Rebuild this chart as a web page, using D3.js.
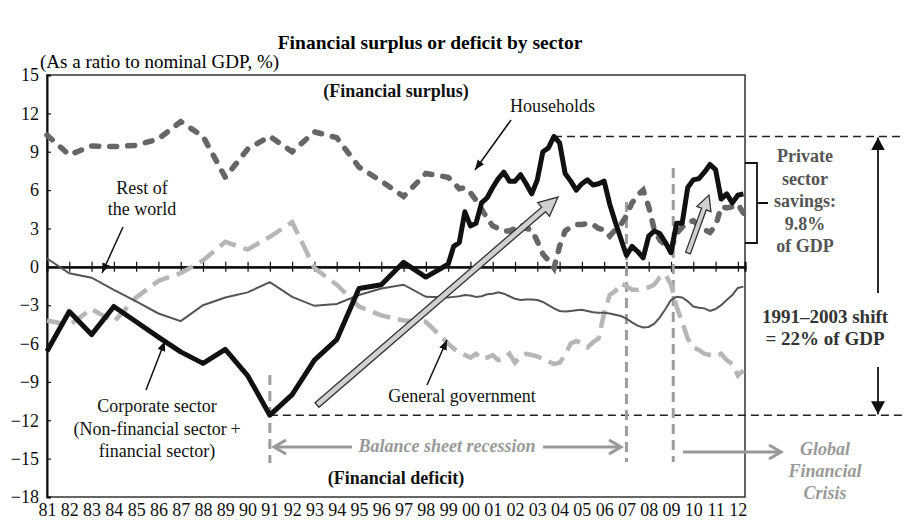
<!DOCTYPE html>
<html>
<head>
<meta charset="utf-8">
<script src="https://cdn.jsdelivr.net/npm/d3@7"></script>
<style>
  body { margin: 0; background: #fff; }
  svg { font-family: 'Liberation Serif', 'Times New Roman', serif; }
</style>
</head>
<body>
<div id="app"></div>
<script>
// x axis labels, one per year
const yearLabels = ['81', '82', '83', '84', '85', '86', '87', '88', '89', '90', '91', '92', '93', '94', '95', '96',
  '97', '98', '99', '00', '01', '02', '03', '04', '05', '06', '07', '08', '09', '10', '11', '12']
const yTicks = [-18, -15, -12, -9, -6, -3, 0, 3, 6, 9, 12, 15]

// annual data 1981-1998, then quarterly 1999Q1-2012Q2
const annualYears = [1981, 1982, 1983, 1984, 1985, 1986, 1987, 1988, 1989, 1990, 1991, 1992, 1993, 1994, 1995, 1996, 1997, 1998]
const quarterTimes = d3.range(54).map(k => 1999 + k / 4)

const corporateAnnual = [-6.6, -3.5, -5.3, -3.1, -4.3, -5.5, -6.65, -7.55, -6.45, -8.5, -11.6, -10.0, -7.3, -5.7, -1.7, -1.4, 0.35, -0.8]
const corporateQuarterly = [
  0.2, 1.6, 1.9, 4.3, 3.2, 3.4, 5.0, 5.4, 6.2, 6.9, 7.4, 6.7, 6.7, 7.2, 6.5, 5.7,
  6.8, 9.0, 9.3, 10.2, 9.7, 7.3, 6.7, 6.0, 6.5, 6.8, 6.4, 6.5, 6.7, 4.9, 3.5, 2.2,
  0.9, 1.6, 1.2, 0.7, 2.4, 2.8, 2.6, 1.9, 1.1, 3.4, 3.4, 6.2, 6.8, 6.9, 7.4, 8.0,
  7.6, 5.3, 5.7, 5.0, 5.6, 5.7]

const householdsAnnual = [10.3, 8.75, 9.45, 9.4, 9.5, 10.0, 11.35, 10.2, 7.0, 9.2, 10.2, 9.0, 10.55, 10.1, 7.8, 6.7, 5.5, 7.3]
const householdsQuarterly = [
  7.0, 6.6, 6.1, 6.2, 5.8, 5.2, 4.5, 3.8, 3.2, 3.0, 2.8, 2.8, 3.0, 3.3, 3.0, 2.9,
  2.0, 1.0, 0.5, -0.1, 1.6, 2.8, 3.1, 3.3, 3.3, 3.4, 3.3, 3.0, 2.9, 2.4, 2.9, 3.3,
  4.0, 5.0, 5.6, 6.0, 4.7, 2.9, 2.1, 1.7, 1.4, 2.6, 3.1, 3.5, 3.6, 3.2, 2.9, 2.7,
  3.2, 4.7, 4.6, 4.7, 4.9, 4.2]

const governmentAnnual = [-4.2, -4.55, -3.3, -4.3, -2.4, -1.1, -0.5, 0.5, 1.95, 1.35, 2.35, 3.5, -0.1, -1.4, -3.1, -3.8, -4.2, -4.3]
const governmentQuarterly = [
  -6.0, -6.4, -6.7, -6.9, -7.1, -6.8, -7.2, -7.1, -6.9, -7.3, -7.2, -6.8, -7.5, -7.0, -6.8, -6.9,
  -7.0, -7.2, -7.4, -7.6, -7.5, -6.9, -6.0, -5.8, -6.0, -6.3, -5.9, -5.6, -3.6, -2.2, -1.9, -1.3,
  -1.5, -1.8, -1.8, -1.7, -1.6, -1.4, -0.8, -0.6, -1.4, -3.1, -4.3, -5.6, -6.3, -6.5, -6.8, -6.9,
  -7.0, -6.8, -7.3, -7.6, -8.5, -8.1]

const restAnnual = [0.65, -0.5, -0.85, -1.8, -2.7, -3.65, -4.25, -3.0, -2.4, -2.0, -1.2, -2.35, -3.05, -2.9, -2.2, -1.7, -1.4, -2.35]
const restQuarterly = [
  -2.4, -2.35, -2.3, -2.2, -2.25, -2.35, -2.3, -2.15, -2.1, -2.0, -2.1, -2.3, -2.5, -2.6, -2.55, -2.55,
  -2.6, -2.75, -3.0, -3.25, -3.45, -3.5, -3.45, -3.4, -3.35, -3.45, -3.55, -3.6, -3.6, -3.65, -3.75, -3.85,
  -4.05, -4.35, -4.6, -4.75, -4.7, -4.45, -3.95, -3.3, -2.6, -2.35, -2.4, -2.7, -3.1, -3.2, -3.25, -3.45,
  -3.3, -3.0, -2.6, -2.2, -1.65, -1.55]

const times = annualYears.concat(quarterTimes)
const toSeries = (a, q) => times.map((t, i) => ({ t, v: i < a.length ? a[i] : q[i - a.length] }))
const corporate = toSeries(corporateAnnual, corporateQuarterly)
const households = toSeries(householdsAnnual, householdsQuarterly)
const government = toSeries(governmentAnnual, governmentQuarterly)
const rest = toSeries(restAnnual, restQuarterly)

const W = 904, H = 521
const plot = { left: 47, right: 745, top: 75, bottom: 497 }

const svg = d3.select('#app').append('svg').attr('width', W).attr('height', H)

const x = d3.scaleLinear().domain([1981, 2012.32]).range([plot.left, plot.right])
const y = d3.scaleLinear().domain([-18, 15]).range([plot.bottom, plot.top])

// Title
svg.append('text').attr('x', 430).attr('y', 49).attr('text-anchor', 'middle')
  .attr('font-weight', 'bold').attr('font-size', 19.5).text('Financial surplus or deficit by sector')
svg.append('text').attr('x', 40).attr('y', 68).attr('font-size', 19)
  .text('(As a ratio to nominal GDP, %)')

// markers
const defs = svg.append('defs')
defs.append('marker').attr('id', 'headSmall').attr('markerUnits', 'userSpaceOnUse')
  .attr('markerWidth', 10).attr('markerHeight', 10).attr('refX', 10).attr('refY', 4)
  .attr('orient', 'auto')
  .append('path').attr('d', 'M0,0L10,4L0,8Z').attr('fill', '#111')
defs.append('marker').attr('id', 'headBig').attr('markerUnits', 'userSpaceOnUse')
  .attr('markerWidth', 14).attr('markerHeight', 14).attr('refX', 13).attr('refY', 7)
  .attr('orient', 'auto')
  .append('path').attr('d', 'M0,0L13,7L0,14Z').attr('fill', '#111')

// frame
svg.append('rect').attr('x', plot.left).attr('y', plot.top)
  .attr('width', plot.right - plot.left).attr('height', plot.bottom - plot.top)
  .attr('fill', 'none').attr('stroke', '#333').attr('stroke-width', 1.5)

// Y axis
const yAxis = svg.append('g').attr('transform', `translate(${plot.left},0)`)
  .call(d3.axisLeft(y).tickValues(yTicks).tickSize(-4).tickPadding(8)
    .tickFormat(d => (d < 0 ? '\u2212' + Math.abs(d) : d)))
yAxis.select('.domain').attr('stroke', '#111').attr('stroke-width', 2)
yAxis.selectAll('.tick line').attr('stroke', '#111').attr('stroke-width', 1.2)
yAxis.selectAll('text').attr('font-family', 'Liberation Serif').attr('font-size', 18).attr('fill', '#111')

// X labels
const yearTicks = d3.range(1981, 2013)
const xAxis = svg.append('g').attr('transform', `translate(0,${plot.bottom})`)
  .call(d3.axisBottom(x).tickValues(yearTicks).tickSize(0).tickPadding(6)
    .tickFormat((d, i) => yearLabels[i]))
xAxis.select('.domain').remove()
xAxis.selectAll('text').attr('font-family', 'Liberation Serif').attr('font-size', 18).attr('fill', '#111')

// zero line with crossing ticks
const zeroG = svg.append('g')
zeroG.append('g').attr('transform', `translate(0,${y(0)})`)
  .call(d3.axisBottom(x).tickValues(yearTicks.slice(1)).tickSize(5).tickFormat(''))
zeroG.append('g').attr('transform', `translate(0,${y(0)})`)
  .call(d3.axisTop(x).tickValues(yearTicks.slice(1)).tickSize(5).tickFormat(''))
zeroG.selectAll('.domain').attr('stroke', '#111').attr('stroke-width', 2.2)
zeroG.selectAll('.tick line').attr('stroke', '#111').attr('stroke-width', 1.2)

// reference dashed lines (peak and trough of corporate)
const peak = d3.max(corporate, d => d.v)
const trough = d3.min(corporate, d => d.v)
const peakT = corporate.find(d => d.v === peak).t
const troughT = corporate.find(d => d.v === trough).t
svg.append('line').attr('x1', x(peakT)).attr('x2', W).attr('y1', y(peak)).attr('y2', y(peak))
  .attr('stroke', '#222').attr('stroke-width', 1.5).attr('stroke-dasharray', '8,5')
svg.append('line').attr('x1', x(troughT)).attr('x2', W).attr('y1', y(trough)).attr('y2', y(trough))
  .attr('stroke', '#222').attr('stroke-width', 1.5).attr('stroke-dasharray', '8,5')

// vertical grey dashed lines
const vlines = [[1991, 375, 463], [2007, 202, 462], [2009.1, 168, 462]]
svg.selectAll('.vline').data(vlines).join('line').attr('class', 'vline')
  .attr('x1', d => x(d[0])).attr('x2', d => x(d[0])).attr('y1', d => d[1]).attr('y2', d => d[2])
  .attr('stroke', '#9d9d9d').attr('stroke-width', 3).attr('stroke-dasharray', '10,6')

// series
const line = d3.line().x(d => x(d.t)).y(d => y(d.v))
svg.append('path').datum(government).attr('d', line).attr('fill', 'none')
  .attr('stroke', '#b6b6b6').attr('stroke-width', 4.5).attr('stroke-dasharray', '18,8')
svg.append('path').datum(rest).attr('d', line).attr('fill', 'none')
  .attr('stroke', '#555').attr('stroke-width', 2)
svg.append('path').datum(households).attr('d', line).attr('fill', 'none')
  .attr('stroke', '#666').attr('stroke-width', 5.5).attr('stroke-linecap', 'round')
  .attr('stroke-dasharray', '7,11')
svg.append('path').datum(corporate).attr('d', line).attr('fill', 'none')
  .attr('stroke', '#111').attr('stroke-width', 5).attr('stroke-linejoin', 'round')

// hollow arrows
function hollowArrow(x1, y1, x2, y2, sw, hw, hl) {
  const len = Math.hypot(x2 - x1, y2 - y1)
  const ang = Math.atan2(y2 - y1, x2 - x1) * 180 / Math.PI
  const pts = [[0, -sw], [len - hl, -sw], [len - hl, -hw], [len, 0], [len - hl, hw], [len - hl, sw], [0, sw]]
  svg.append('polygon').attr('points', pts.map(p => p.join(',')).join(' '))
    .attr('transform', `translate(${x1},${y1}) rotate(${ang})`)
    .attr('fill', '#d0d0d0').attr('stroke', '#333').attr('stroke-width', 1.3)
}
hollowArrow(317, 405, 558, 197, 3, 9, 19)
hollowArrow(688, 253, 709, 195, 2.5, 7.5, 15)

// thin annotation arrows
const pointers = [[123, 227, 102, 273], [511, 120, 475, 170], [146, 390, 165, 341], [427, 385, 447, 340]]
svg.selectAll('.ptr').data(pointers).join('line').attr('class', 'ptr')
  .attr('x1', d => d[0]).attr('y1', d => d[1]).attr('x2', d => d[2]).attr('y2', d => d[3])
  .attr('stroke', '#111').attr('stroke-width', 1.5).attr('marker-end', 'url(#headSmall)')

// text helper
function label(lines, cx, y0, dy, opts = {}) {
  const t = svg.append('text').attr('text-anchor', opts.anchor || 'middle')
    .attr('font-size', opts.size || 18).attr('fill', opts.fill || '#111')
    .attr('font-weight', opts.weight || 'normal').attr('font-style', opts.style || 'normal')
  lines.forEach((s, i) => t.append('tspan').attr('x', cx).attr('y', y0 + i * dy).text(s))
}
label(['(Financial surplus)'], 396, 97, 0, { weight: 'bold' })
label(['(Financial deficit)'], 396, 484, 0, { weight: 'bold' })
label(['Households'], 510, 112, 0, { anchor: 'start' })
label(['Rest of', 'the world'], 142, 194, 21)
label(['Corporate sector', '(Non-financial sector\u2009+', 'financial sector)'], 157, 412, 22.5)
label(['General government'], 462, 402, 0)
label(['Private', 'sector', 'savings:', '9.8%', 'of GDP'], 805, 162, 22.5, { weight: 'bold', fill: '#555' })
label(['1991\u20132003 shift', '= 22% of GDP'], 825, 323, 22, { weight: 'bold', fill: '#333', size: 19 })
label(['Balance sheet recession'], 447, 452, 0, { weight: 'bold', style: 'italic', fill: '#999' })
label(['Global', 'Financial', 'Crisis'], 825, 455, 22, { weight: 'bold', style: 'italic', fill: '#999' })

// brace
svg.append('path').attr('d', 'M745,163H757V243H745M757,203H768')
  .attr('fill', 'none').attr('stroke', '#111').attr('stroke-width', 1.8)

// vertical double arrow (1991-2003 shift)
svg.append('line').attr('x1', 878).attr('x2', 878).attr('y1', 293).attr('y2', y(peak) + 1)
  .attr('stroke', '#111').attr('stroke-width', 1.8).attr('marker-end', 'url(#headBig)')
svg.append('line').attr('x1', 878).attr('x2', 878).attr('y1', 367).attr('y2', y(trough) - 1)
  .attr('stroke', '#111').attr('stroke-width', 1.8).attr('marker-end', 'url(#headBig)')

// grey arrows with open heads
function greyArrow(x1, x2, yy, dir) {
  svg.append('line').attr('x1', x1).attr('x2', x2).attr('y1', yy).attr('y2', yy)
    .attr('stroke', '#999').attr('stroke-width', 3)
  const hx = dir > 0 ? x2 : x1
  svg.append('polyline')
    .attr('points', `${hx - dir * 12},${yy - 7} ${hx},${yy} ${hx - dir * 12},${yy + 7}`)
    .attr('fill', 'none').attr('stroke', '#999').attr('stroke-width', 3)
}
greyArrow(274, 352, 447, -1)
greyArrow(543, 621, 447, 1)
greyArrow(683, 781, 452, 1)
</script>
</body>
</html>
